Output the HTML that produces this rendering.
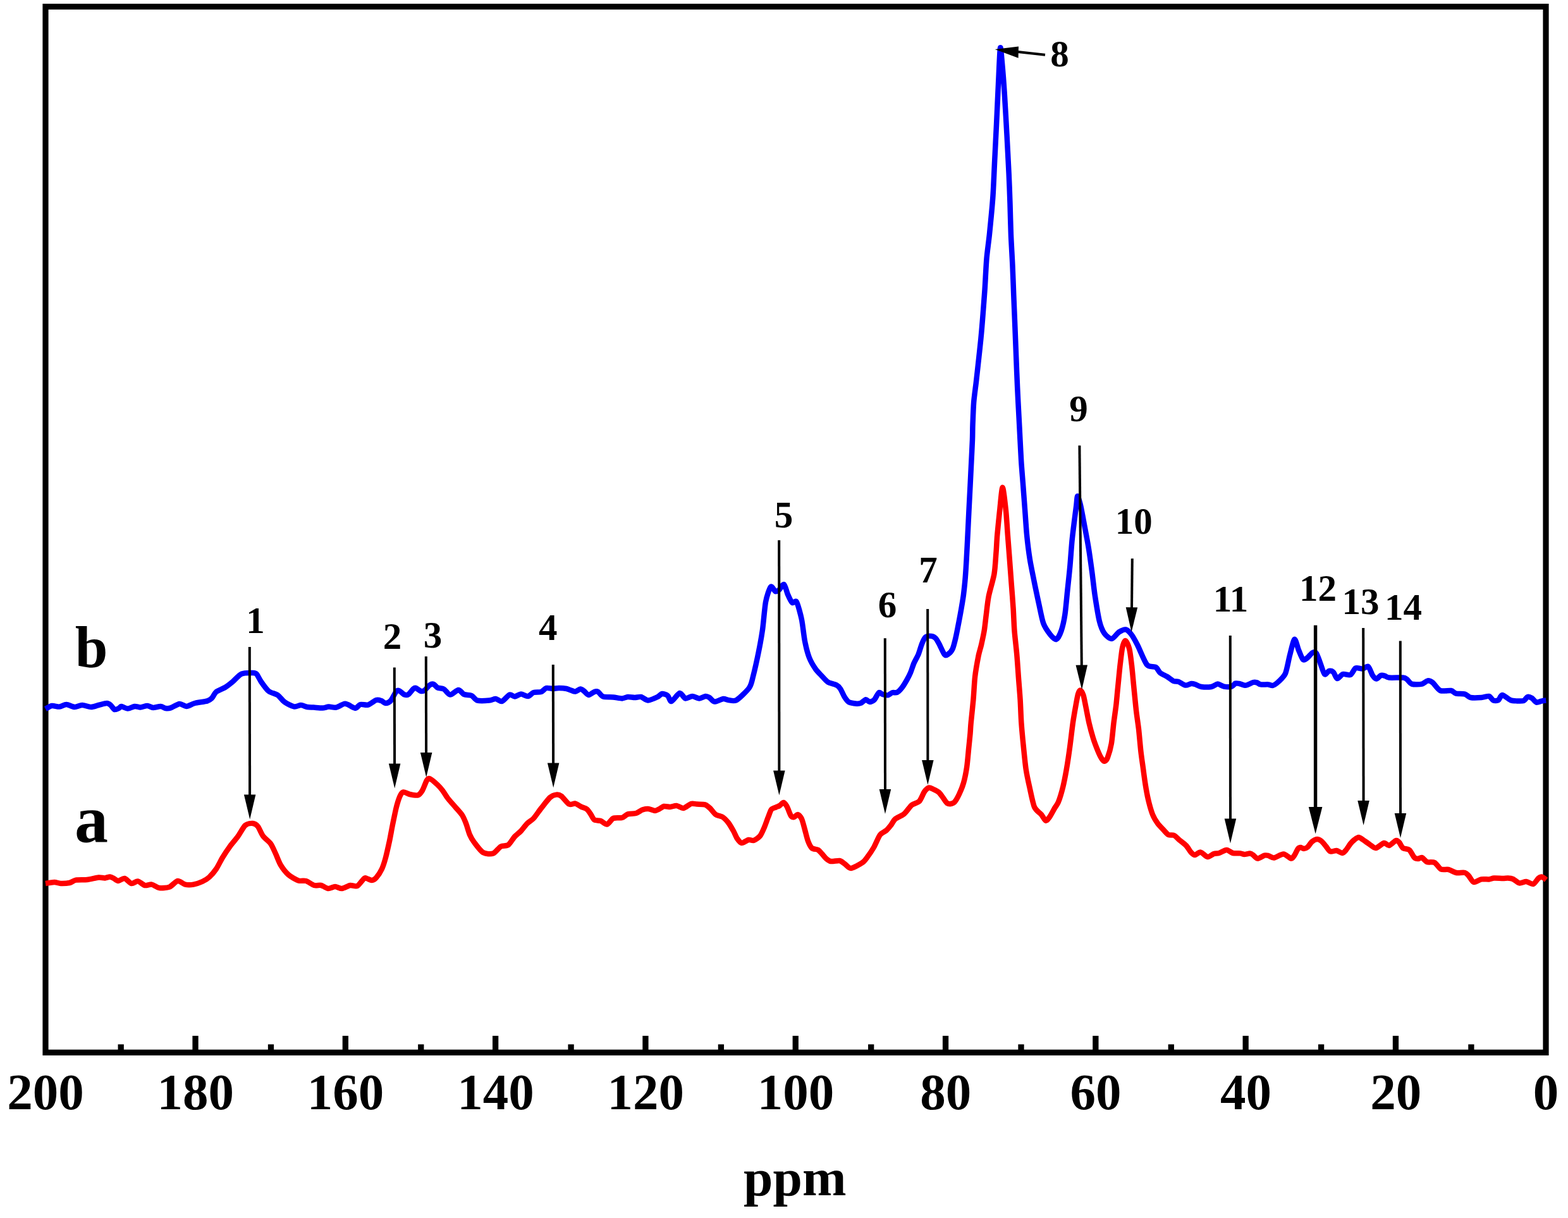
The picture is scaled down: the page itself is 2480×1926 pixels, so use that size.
<!DOCTYPE html>
<html lang="en">
<head>
<meta charset="utf-8">
<title>13C NMR spectra</title>
<style>
html,body{margin:0;padding:0;background:#fff;}
body{width:2480px;height:1926px;overflow:hidden;}
svg{display:block;}
text{font-family:"Liberation Serif",serif;font-weight:bold;fill:#000;}
.tick{font-size:81px;text-anchor:middle;}
.num{font-size:59px;text-anchor:middle;}
.la{font-size:106px;text-anchor:middle;}
.lb{font-size:93px;text-anchor:middle;}
.axl{font-size:83.5px;text-anchor:middle;}
</style>
</head>
<body>
<svg width="2480" height="1926" viewBox="0 0 2480 1926">
<rect x="0" y="0" width="2480" height="1926" fill="#fff"/>
<rect x="72.0" y="10.5" width="2373.0" height="1653.8" fill="none" stroke="#000" stroke-width="9.2"/>
<rect x="186.55" y="1651.4" width="9.3" height="9.3" fill="#000"/>
<rect x="304.40" y="1637.9" width="9.3" height="22.8" fill="#000"/>
<rect x="423.85" y="1651.4" width="9.3" height="9.3" fill="#000"/>
<rect x="541.70" y="1637.9" width="9.3" height="22.8" fill="#000"/>
<rect x="661.15" y="1651.4" width="9.3" height="9.3" fill="#000"/>
<rect x="779.00" y="1637.9" width="9.3" height="22.8" fill="#000"/>
<rect x="898.45" y="1651.4" width="9.3" height="9.3" fill="#000"/>
<rect x="1016.30" y="1637.9" width="9.3" height="22.8" fill="#000"/>
<rect x="1135.75" y="1651.4" width="9.3" height="9.3" fill="#000"/>
<rect x="1253.60" y="1637.9" width="9.3" height="22.8" fill="#000"/>
<rect x="1373.05" y="1651.4" width="9.3" height="9.3" fill="#000"/>
<rect x="1490.90" y="1637.9" width="9.3" height="22.8" fill="#000"/>
<rect x="1610.35" y="1651.4" width="9.3" height="9.3" fill="#000"/>
<rect x="1728.20" y="1637.9" width="9.3" height="22.8" fill="#000"/>
<rect x="1847.65" y="1651.4" width="9.3" height="9.3" fill="#000"/>
<rect x="1965.50" y="1637.9" width="9.3" height="22.8" fill="#000"/>
<rect x="2084.95" y="1651.4" width="9.3" height="9.3" fill="#000"/>
<rect x="2202.80" y="1637.9" width="9.3" height="22.8" fill="#000"/>
<rect x="2322.25" y="1651.4" width="9.3" height="9.3" fill="#000"/>
<path fill="none" stroke="#0000ff" stroke-width="8.5" stroke-linejoin="round" stroke-linecap="butt" d="M72.0 1121.0C73.3 1120.3 79.1 1116.5 82.0 1116.0C84.9 1115.5 90.9 1117.9 94.0 1117.6C97.1 1117.3 101.8 1113.9 105.0 1114.0C108.2 1114.1 114.7 1117.9 118.0 1118.0C121.3 1118.1 126.5 1115.0 130.0 1115.0C133.5 1115.0 140.5 1118.0 144.0 1118.0C147.5 1118.0 152.7 1115.8 156.0 1115.0C159.3 1114.2 166.5 1112.0 169.0 1112.0C171.5 1112.0 173.4 1113.7 175.0 1115.0C176.6 1116.3 179.3 1121.3 181.0 1122.0C182.7 1122.7 186.5 1120.7 188.0 1120.0C189.5 1119.3 190.1 1116.9 192.0 1117.0C193.9 1117.1 199.2 1120.6 202.0 1120.6C204.8 1120.6 210.3 1117.3 213.0 1117.0C215.7 1116.7 219.3 1118.5 222.0 1118.4C224.7 1118.3 230.3 1115.9 233.0 1116.0C235.7 1116.1 239.2 1118.9 242.0 1119.0C244.8 1119.1 251.3 1116.9 254.0 1117.0C256.7 1117.1 259.9 1119.7 262.0 1120.0C264.1 1120.3 267.1 1120.3 270.0 1119.4C272.9 1118.5 280.7 1113.3 284.0 1113.0C287.3 1112.7 291.8 1117.1 295.0 1117.0C298.2 1116.9 303.6 1113.1 308.0 1112.0C312.4 1110.9 324.4 1109.5 328.0 1108.4C331.6 1107.3 333.1 1105.9 335.0 1104.0C336.9 1102.1 339.2 1096.3 342.0 1094.0C344.8 1091.7 352.5 1089.1 356.0 1087.0C359.5 1084.9 364.5 1080.9 368.0 1078.0C371.5 1075.1 377.7 1067.5 382.0 1065.6C386.3 1063.7 396.8 1063.9 400.0 1064.0C403.2 1064.1 404.3 1064.1 406.0 1066.0C407.7 1067.9 410.5 1074.4 413.0 1078.0C415.5 1081.6 421.5 1090.2 425.0 1093.0C428.5 1095.8 435.7 1096.7 439.0 1099.0C442.3 1101.3 446.5 1107.5 450.0 1110.0C453.5 1112.5 461.5 1116.7 465.0 1117.4C468.5 1118.1 473.2 1114.9 476.0 1115.0C478.8 1115.1 483.3 1117.5 486.0 1118.0C488.7 1118.5 492.8 1118.4 496.0 1118.6C499.2 1118.8 506.8 1119.7 510.0 1119.6C513.2 1119.5 517.1 1117.7 520.0 1117.6C522.9 1117.5 528.8 1119.2 532.0 1118.6C535.2 1118.0 541.6 1113.6 544.0 1113.0C546.4 1112.4 547.6 1113.1 550.0 1114.0C552.4 1114.9 559.3 1120.0 562.0 1120.0C564.7 1120.0 567.3 1114.7 570.0 1114.0C572.7 1113.3 578.7 1115.5 582.0 1114.6C585.3 1113.7 592.2 1107.9 595.0 1107.0C597.8 1106.1 601.0 1107.3 603.0 1108.0C605.0 1108.7 608.0 1112.0 610.0 1112.0C612.0 1112.0 615.7 1110.5 618.0 1108.0C620.3 1105.5 625.1 1095.1 627.0 1093.0C628.9 1090.9 630.3 1091.9 632.0 1092.6C633.7 1093.3 638.1 1097.9 640.0 1098.6C641.9 1099.3 644.1 1099.3 646.0 1098.0C647.9 1096.7 652.4 1090.3 654.0 1089.0C655.6 1087.7 656.5 1087.5 658.0 1088.0C659.5 1088.5 663.3 1092.1 665.0 1092.6C666.7 1093.1 669.0 1093.3 671.0 1092.0C673.0 1090.7 678.0 1084.3 680.0 1083.0C682.0 1081.7 684.4 1081.4 686.0 1082.0C687.6 1082.6 689.9 1086.4 692.0 1087.4C694.1 1088.4 699.3 1088.1 702.0 1089.6C704.7 1091.1 708.9 1098.4 712.0 1098.6C715.1 1098.8 722.1 1091.1 725.0 1091.0C727.9 1090.9 731.2 1096.8 734.0 1098.0C736.8 1099.2 743.2 1098.7 746.0 1100.0C748.8 1101.3 751.3 1106.6 755.0 1107.6C758.7 1108.6 770.1 1107.9 774.0 1107.6C777.9 1107.3 781.3 1104.8 784.0 1105.0C786.7 1105.2 791.1 1109.9 794.0 1109.0C796.9 1108.1 803.3 1099.6 806.0 1098.6C808.7 1097.6 811.6 1101.5 814.0 1101.4C816.4 1101.3 821.2 1097.7 824.0 1097.6C826.8 1097.5 832.3 1101.3 835.0 1101.0C837.7 1100.7 841.2 1095.9 844.0 1095.0C846.8 1094.1 853.3 1094.9 856.0 1094.0C858.7 1093.1 861.6 1088.7 864.0 1088.0C866.4 1087.3 871.3 1089.0 874.0 1089.0C876.7 1089.0 881.1 1088.0 884.0 1088.0C886.9 1088.0 893.5 1088.5 896.0 1089.0C898.5 1089.5 901.1 1090.9 903.0 1091.5C904.9 1092.1 908.0 1093.9 910.0 1093.6C912.0 1093.3 916.1 1089.7 918.0 1089.6C919.9 1089.5 922.3 1091.7 924.0 1093.0C925.7 1094.3 928.9 1098.9 931.0 1099.0C933.1 1099.1 938.0 1094.7 940.0 1094.0C942.0 1093.3 944.1 1093.0 946.0 1094.0C947.9 1095.0 950.8 1100.5 954.0 1101.6C957.2 1102.7 966.0 1102.0 970.0 1102.4C974.0 1102.8 980.9 1104.5 984.0 1104.4C987.1 1104.3 990.3 1102.2 993.0 1102.0C995.7 1101.8 1001.2 1103.0 1004.0 1103.0C1006.8 1103.0 1011.2 1101.4 1014.0 1102.0C1016.8 1102.6 1021.5 1107.4 1025.0 1107.4C1028.5 1107.4 1037.1 1103.4 1040.0 1102.0C1042.9 1100.6 1044.9 1097.3 1047.0 1097.0C1049.1 1096.7 1054.0 1098.4 1056.0 1100.0C1058.0 1101.6 1059.5 1109.5 1062.0 1109.0C1064.5 1108.5 1072.1 1096.6 1075.0 1096.0C1077.9 1095.4 1081.3 1103.7 1084.0 1104.4C1086.7 1105.1 1092.1 1101.0 1095.0 1101.0C1097.9 1101.0 1103.2 1104.4 1106.0 1104.4C1108.8 1104.4 1113.9 1101.2 1116.0 1101.0C1118.1 1100.8 1120.1 1101.9 1122.0 1103.0C1123.9 1104.1 1127.1 1109.3 1130.0 1109.6C1132.9 1109.9 1141.1 1105.3 1144.0 1105.0C1146.9 1104.7 1149.2 1106.7 1152.0 1107.0C1154.8 1107.3 1160.6 1109.6 1165.0 1107.0C1169.4 1104.4 1181.5 1092.5 1185.0 1087.6C1188.5 1082.7 1189.0 1077.7 1191.0 1070.0C1193.0 1062.3 1198.0 1039.9 1200.0 1030.0C1202.0 1020.1 1204.5 1006.4 1206.0 996.0C1207.5 985.6 1209.3 961.1 1211.0 952.0C1212.7 942.9 1217.0 930.3 1219.0 928.0C1221.0 925.7 1224.3 934.3 1226.0 935.0C1227.7 935.7 1230.1 934.5 1232.0 933.0C1233.9 931.5 1238.1 923.1 1240.0 924.0C1241.9 924.9 1244.3 936.1 1246.0 940.0C1247.7 943.9 1251.1 951.4 1253.0 953.0C1254.9 954.6 1258.0 948.4 1260.0 952.0C1262.0 955.6 1266.3 971.7 1268.0 980.0C1269.7 988.3 1271.4 1006.0 1273.0 1014.0C1274.6 1022.0 1277.7 1034.1 1280.0 1040.0C1282.3 1045.9 1287.3 1054.1 1290.0 1058.0C1292.7 1061.9 1297.4 1066.3 1300.0 1069.1C1302.6 1071.9 1306.5 1076.8 1309.6 1078.7C1312.7 1080.6 1320.7 1082.0 1323.4 1083.5C1326.1 1085.0 1327.9 1087.2 1329.5 1089.7C1331.1 1092.2 1334.0 1099.4 1335.7 1102.1C1337.4 1104.8 1340.0 1108.9 1342.6 1110.3C1345.2 1111.7 1352.4 1112.5 1355.0 1112.7C1357.6 1112.9 1359.9 1112.6 1361.8 1111.7C1363.7 1110.8 1367.6 1106.4 1369.4 1106.2C1371.2 1106.0 1373.7 1110.0 1375.5 1110.0C1377.3 1110.0 1381.2 1108.2 1383.1 1106.2C1385.0 1104.2 1388.3 1096.3 1390.0 1095.2C1391.7 1094.1 1394.3 1097.5 1396.2 1098.0C1398.1 1098.5 1402.4 1099.7 1404.4 1099.3C1406.4 1098.9 1409.4 1095.8 1411.3 1095.2C1413.2 1094.6 1416.8 1095.9 1418.8 1094.9C1420.8 1093.9 1424.3 1090.4 1426.4 1087.7C1428.5 1085.0 1432.8 1077.8 1434.6 1074.6C1436.4 1071.4 1438.6 1067.1 1440.1 1063.6C1441.6 1060.1 1443.9 1052.3 1445.6 1048.5C1447.3 1044.7 1450.8 1038.8 1452.5 1034.8C1454.2 1030.8 1456.5 1022.0 1458.0 1018.3C1459.5 1014.6 1462.1 1009.0 1464.1 1007.3C1466.1 1005.6 1471.0 1005.6 1473.1 1005.9C1475.2 1006.2 1478.3 1007.7 1479.9 1009.4C1481.5 1011.1 1483.6 1014.9 1485.4 1018.3C1487.2 1021.7 1491.9 1032.6 1493.7 1034.8C1495.5 1037.0 1497.5 1036.0 1499.2 1034.8C1500.9 1033.6 1505.1 1029.4 1506.7 1025.9C1508.3 1022.4 1510.1 1014.7 1511.5 1008.7C1512.9 1002.7 1515.7 988.0 1517.0 981.2C1518.3 974.4 1520.3 963.4 1521.2 957.9C1522.1 952.4 1523.3 945.9 1524.0 940.0C1524.7 934.1 1526.1 921.2 1526.7 913.8C1527.3 906.4 1528.1 893.7 1528.6 884.6C1529.1 875.5 1530.1 856.1 1530.6 845.7C1531.1 835.3 1532.0 817.2 1532.5 806.8C1533.0 796.4 1534.0 778.2 1534.5 767.8C1535.0 757.4 1535.9 738.6 1536.4 728.9C1536.9 719.2 1537.7 702.6 1538.0 695.0C1538.3 687.4 1538.2 679.4 1538.5 671.6C1538.8 663.8 1539.4 645.7 1540.1 636.6C1540.8 627.5 1542.9 613.1 1544.0 603.5C1545.1 593.9 1547.3 573.7 1548.3 564.6C1549.3 555.5 1550.5 544.5 1551.4 535.4C1552.3 526.3 1553.9 506.9 1554.7 496.5C1555.5 486.1 1556.8 469.3 1557.6 457.6C1558.4 445.9 1559.5 420.6 1560.5 408.9C1561.5 397.2 1563.7 382.9 1565.0 370.0C1566.3 357.1 1569.2 327.9 1570.3 312.4C1571.4 296.9 1572.4 269.6 1573.2 254.0C1574.0 238.4 1575.3 211.8 1576.1 195.7C1576.9 179.6 1578.2 149.4 1579.0 133.4C1579.8 117.4 1581.2 80.7 1582.0 76.0C1582.8 71.3 1584.0 88.7 1584.9 98.4C1585.8 108.1 1587.8 133.4 1588.8 149.0C1589.8 164.6 1591.7 198.5 1592.6 215.1C1593.5 231.7 1594.9 259.2 1595.6 273.5C1596.3 287.8 1597.1 309.3 1597.5 322.2C1597.9 335.1 1598.4 357.1 1598.9 370.0C1599.4 382.9 1600.8 405.6 1601.4 418.6C1602.0 431.6 1602.8 454.3 1603.3 467.3C1603.8 480.3 1604.8 502.9 1605.3 515.9C1605.8 528.9 1606.7 551.6 1607.2 564.6C1607.7 577.6 1608.6 600.2 1609.2 613.2C1609.8 626.2 1611.1 651.0 1611.7 661.9C1612.3 672.8 1612.9 686.1 1613.4 695.0C1613.9 703.9 1614.6 719.2 1615.2 728.9C1615.8 738.6 1617.4 757.4 1618.2 767.8C1619.0 778.2 1620.3 796.4 1621.1 806.8C1621.9 817.2 1623.0 835.3 1624.0 845.7C1625.0 856.1 1627.3 874.7 1628.9 884.6C1630.5 894.5 1633.8 910.0 1635.7 919.6C1637.6 929.2 1641.6 947.8 1643.5 956.6C1645.4 965.4 1648.0 979.6 1650.3 985.8C1652.6 992.0 1658.3 999.9 1661.0 1003.3C1663.7 1006.7 1668.4 1011.9 1670.7 1011.1C1673.0 1010.3 1676.7 1002.7 1678.5 997.5C1680.3 992.3 1683.0 980.8 1684.3 972.2C1685.6 963.6 1687.3 943.6 1688.4 933.2C1689.5 922.8 1691.5 904.7 1692.4 894.3C1693.3 883.9 1694.6 865.0 1695.5 855.4C1696.4 845.8 1698.5 829.8 1699.4 822.3C1700.3 814.8 1701.8 804.0 1702.4 799.0C1703.0 794.0 1703.4 784.9 1704.2 784.6C1705.0 784.3 1707.3 792.0 1708.6 797.0C1709.9 802.0 1711.9 813.2 1713.6 822.3C1715.3 831.4 1719.7 854.2 1721.5 865.1C1723.3 876.0 1725.7 893.6 1727.1 904.0C1728.5 914.4 1730.4 932.6 1732.0 943.0C1733.6 953.4 1736.9 974.1 1738.8 981.9C1740.7 989.7 1744.0 997.5 1746.6 1001.3C1749.2 1005.1 1755.2 1010.4 1758.3 1010.1C1761.4 1009.8 1766.9 1001.3 1769.9 999.4C1772.9 997.5 1778.0 995.0 1780.6 995.5C1783.2 996.0 1786.9 1000.0 1789.4 1003.3C1791.9 1006.6 1795.8 1013.6 1799.1 1020.0C1802.4 1026.4 1810.1 1046.3 1814.0 1051.0C1817.9 1055.7 1825.2 1053.3 1828.0 1055.0C1830.8 1056.7 1832.6 1062.0 1835.0 1064.0C1837.4 1066.0 1843.2 1068.3 1846.0 1070.0C1848.8 1071.7 1853.6 1075.9 1856.0 1077.0C1858.4 1078.1 1861.5 1077.1 1864.0 1078.0C1866.5 1078.9 1872.3 1083.2 1875.0 1083.6C1877.7 1084.0 1882.0 1081.2 1884.0 1081.0C1886.0 1080.8 1887.9 1081.3 1890.0 1082.0C1892.1 1082.7 1896.5 1085.5 1900.0 1086.0C1903.5 1086.5 1912.5 1086.6 1916.0 1086.0C1919.5 1085.4 1923.3 1081.7 1926.0 1081.6C1928.7 1081.5 1933.1 1085.1 1936.0 1085.6C1938.9 1086.1 1945.6 1086.3 1948.0 1085.6C1950.4 1084.9 1952.4 1081.2 1954.0 1080.6C1955.6 1080.0 1958.1 1080.6 1960.0 1081.0C1961.9 1081.4 1966.3 1083.3 1968.0 1083.6C1969.7 1083.9 1971.1 1083.6 1973.0 1083.0C1974.9 1082.4 1980.0 1079.5 1982.0 1079.0C1984.0 1078.5 1986.4 1078.9 1988.0 1079.4C1989.6 1079.9 1991.6 1082.0 1994.0 1082.4C1996.4 1082.8 2003.5 1082.2 2006.0 1082.4C2008.5 1082.6 2010.9 1084.6 2013.0 1084.0C2015.1 1083.4 2019.3 1080.5 2022.0 1078.0C2024.7 1075.5 2030.6 1070.6 2033.0 1065.0C2035.4 1059.4 2038.1 1043.2 2040.0 1036.0C2041.9 1028.8 2045.5 1012.1 2047.4 1011.0C2049.3 1009.9 2052.2 1023.7 2054.0 1028.0C2055.8 1032.3 2059.1 1041.4 2061.0 1043.0C2062.9 1044.6 2066.0 1041.5 2068.0 1040.0C2070.0 1038.5 2074.1 1032.9 2076.0 1032.0C2077.9 1031.1 2080.4 1030.9 2082.0 1033.0C2083.6 1035.1 2086.3 1043.6 2088.0 1048.0C2089.7 1052.4 2093.1 1064.3 2095.0 1066.0C2096.9 1067.7 2100.1 1061.4 2102.0 1061.0C2103.9 1060.6 2107.3 1061.4 2109.0 1063.0C2110.7 1064.6 2113.0 1072.6 2115.0 1073.0C2117.0 1073.4 2121.2 1066.8 2124.0 1066.0C2126.8 1065.2 2133.3 1068.3 2136.0 1067.0C2138.7 1065.7 2141.5 1057.9 2144.0 1056.6C2146.5 1055.3 2152.3 1057.9 2155.0 1057.6C2157.7 1057.3 2161.9 1052.6 2164.0 1054.0C2166.1 1055.4 2169.3 1065.4 2171.0 1068.0C2172.7 1070.6 2175.3 1073.6 2177.0 1073.6C2178.7 1073.6 2182.3 1068.7 2184.0 1068.0C2185.7 1067.3 2188.3 1068.1 2190.0 1068.6C2191.7 1069.1 2193.1 1071.2 2197.0 1071.6C2200.9 1072.0 2215.3 1071.3 2219.0 1071.6C2222.7 1071.9 2223.1 1072.7 2225.0 1074.0C2226.9 1075.3 2229.8 1080.6 2233.0 1081.6C2236.2 1082.6 2245.7 1082.3 2249.0 1081.6C2252.3 1080.9 2255.7 1076.7 2258.0 1076.4C2260.3 1076.1 2263.3 1077.3 2266.0 1079.4C2268.7 1081.5 2274.1 1090.3 2278.0 1092.0C2281.9 1093.7 2291.7 1091.4 2295.0 1092.0C2298.3 1092.6 2300.1 1095.9 2303.0 1096.6C2305.9 1097.3 2313.9 1096.7 2317.0 1097.6C2320.1 1098.5 2322.5 1102.3 2326.0 1103.0C2329.5 1103.7 2339.1 1103.3 2343.0 1103.0C2346.9 1102.7 2352.5 1100.4 2355.0 1101.0C2357.5 1101.6 2360.0 1106.8 2362.0 1107.6C2364.0 1108.4 2368.1 1108.1 2370.0 1107.0C2371.9 1105.9 2373.5 1099.0 2376.0 1099.0C2378.5 1099.0 2385.9 1105.7 2389.0 1107.0C2392.1 1108.3 2396.2 1108.3 2399.0 1108.4C2401.8 1108.5 2407.7 1108.9 2410.0 1108.0C2412.3 1107.1 2414.3 1102.5 2416.0 1102.0C2417.7 1101.5 2421.1 1102.9 2423.0 1104.0C2424.9 1105.1 2428.0 1110.0 2430.0 1110.6C2432.0 1111.2 2436.0 1109.0 2438.0 1108.6C2440.0 1108.2 2444.2 1107.7 2445.2 1107.6"/>
<path fill="none" stroke="#ff0000" stroke-width="8.5" stroke-linejoin="round" stroke-linecap="butt" d="M72.0 1397.0C73.9 1396.7 82.8 1395.0 86.0 1395.0C89.2 1395.0 92.8 1396.9 96.0 1397.0C99.2 1397.1 106.8 1396.7 110.0 1396.0C113.2 1395.3 116.3 1392.3 120.0 1391.6C123.7 1390.9 133.2 1391.5 138.0 1391.0C142.8 1390.5 152.3 1387.9 156.0 1387.6C159.7 1387.3 163.6 1388.6 166.0 1388.4C168.4 1388.2 172.1 1386.3 174.0 1386.4C175.9 1386.5 178.3 1388.1 180.0 1389.0C181.7 1389.9 184.7 1393.0 187.0 1393.0C189.3 1393.0 194.2 1388.5 197.0 1389.0C199.8 1389.5 205.2 1396.4 208.0 1397.0C210.8 1397.6 215.2 1393.0 218.0 1393.4C220.8 1393.8 226.1 1399.3 229.0 1400.0C231.9 1400.7 236.9 1398.1 240.0 1398.6C243.1 1399.1 248.3 1403.5 252.0 1404.0C255.7 1404.5 264.1 1404.1 268.0 1402.6C271.9 1401.1 277.7 1393.5 281.0 1393.0C284.3 1392.5 289.7 1397.9 293.0 1398.6C296.3 1399.3 302.4 1399.2 306.0 1398.6C309.6 1398.0 316.7 1395.5 320.0 1394.0C323.3 1392.5 328.1 1389.7 331.0 1387.0C333.9 1384.3 339.2 1378.1 342.0 1374.0C344.8 1369.9 349.1 1360.8 352.0 1356.0C354.9 1351.2 360.8 1342.4 364.0 1338.0C367.2 1333.6 372.8 1327.4 376.0 1323.0C379.2 1318.6 384.8 1307.8 388.0 1305.0C391.2 1302.2 397.3 1301.7 400.0 1302.0C402.7 1302.3 405.9 1304.3 408.0 1307.0C410.1 1309.7 413.3 1318.4 416.0 1322.0C418.7 1325.6 425.3 1330.3 428.0 1334.0C430.7 1337.7 433.9 1345.5 436.0 1350.0C438.1 1354.5 441.3 1363.6 444.0 1368.0C446.7 1372.4 452.3 1379.7 456.0 1383.0C459.7 1386.3 468.3 1391.1 472.0 1392.4C475.7 1393.7 480.7 1392.0 484.0 1393.0C487.3 1394.0 493.8 1399.1 497.0 1400.0C500.2 1400.9 505.1 1399.3 508.0 1400.0C510.9 1400.7 516.1 1404.7 519.0 1405.0C521.9 1405.3 527.1 1402.0 530.0 1402.0C532.9 1402.0 537.8 1405.3 541.0 1405.0C544.2 1404.7 550.8 1400.5 554.0 1400.0C557.2 1399.5 562.1 1402.5 565.0 1401.0C567.9 1399.5 574.0 1390.6 576.0 1389.0C578.0 1387.4 578.4 1388.6 580.0 1389.0C581.6 1389.4 586.0 1392.1 588.0 1392.0C590.0 1391.9 592.9 1390.4 595.0 1388.0C597.1 1385.6 602.0 1378.3 604.0 1374.0C606.0 1369.7 608.4 1361.9 610.0 1356.0C611.6 1350.1 614.5 1336.9 616.0 1330.0C617.5 1323.1 619.5 1311.2 621.0 1304.0C622.5 1296.8 625.4 1282.1 627.0 1276.0C628.6 1269.9 631.5 1261.1 633.0 1258.0C634.5 1254.9 636.0 1252.7 638.0 1252.4C640.0 1252.1 644.9 1255.3 648.0 1256.0C651.1 1256.7 658.3 1258.2 661.0 1257.4C663.7 1256.6 666.1 1253.1 668.0 1250.0C669.9 1246.9 673.4 1236.5 675.0 1234.0C676.6 1231.5 677.7 1230.5 680.0 1231.4C682.3 1232.3 689.3 1238.5 692.0 1241.0C694.7 1243.5 697.9 1247.2 700.0 1250.0C702.1 1252.8 705.3 1258.5 708.0 1262.0C710.7 1265.5 716.9 1272.4 720.0 1276.0C723.1 1279.6 728.7 1285.5 731.0 1289.0C733.3 1292.5 735.4 1297.9 737.0 1302.0C738.6 1306.1 741.3 1316.0 743.0 1320.0C744.7 1324.0 747.2 1328.3 750.0 1332.0C752.8 1335.7 760.0 1345.7 764.0 1348.0C768.0 1350.3 776.3 1350.9 780.0 1349.6C783.7 1348.3 788.8 1340.4 792.0 1338.6C795.2 1336.8 801.1 1338.1 804.0 1336.0C806.9 1333.9 811.3 1325.9 814.0 1323.0C816.7 1320.1 821.3 1316.8 824.0 1314.0C826.7 1311.2 831.3 1304.7 834.0 1302.0C836.7 1299.3 841.1 1297.2 844.0 1294.0C846.9 1290.8 852.5 1282.4 856.0 1278.0C859.5 1273.6 866.8 1263.9 870.0 1261.0C873.2 1258.1 877.6 1256.9 880.0 1256.6C882.4 1256.3 885.3 1257.0 888.0 1259.0C890.7 1261.0 897.1 1270.1 900.0 1271.6C902.9 1273.1 907.5 1270.1 910.0 1270.6C912.5 1271.1 916.6 1274.4 919.0 1275.6C921.4 1276.8 926.0 1277.9 928.0 1279.4C930.0 1280.9 932.4 1284.7 934.0 1287.0C935.6 1289.3 937.9 1294.9 940.0 1296.4C942.1 1297.9 947.3 1297.0 950.0 1298.0C952.7 1299.0 957.3 1304.1 960.0 1303.6C962.7 1303.1 966.8 1295.4 970.0 1294.0C973.2 1292.6 980.9 1293.9 984.0 1293.0C987.1 1292.1 990.1 1288.3 993.0 1287.4C995.9 1286.5 1002.9 1286.9 1006.0 1286.0C1009.1 1285.1 1013.5 1281.5 1016.0 1280.6C1018.5 1279.7 1022.3 1278.8 1025.0 1279.0C1027.7 1279.2 1033.7 1281.9 1036.0 1282.0C1038.3 1282.1 1040.1 1280.5 1042.0 1279.6C1043.9 1278.7 1047.6 1275.5 1050.0 1275.0C1052.4 1274.5 1057.3 1276.1 1060.0 1276.0C1062.7 1275.9 1067.2 1273.7 1070.0 1274.0C1072.8 1274.3 1077.9 1278.4 1081.0 1278.0C1084.1 1277.6 1090.2 1271.9 1093.0 1271.0C1095.8 1270.1 1099.1 1271.4 1102.0 1271.6C1104.9 1271.8 1112.2 1271.5 1115.0 1272.4C1117.8 1273.3 1120.7 1275.9 1123.0 1278.0C1125.3 1280.1 1129.3 1286.1 1132.0 1288.0C1134.7 1289.9 1140.3 1290.3 1143.0 1292.0C1145.7 1293.7 1149.7 1298.1 1152.0 1301.0C1154.3 1303.9 1158.1 1310.7 1160.0 1314.0C1161.9 1317.3 1164.3 1323.5 1166.0 1326.0C1167.7 1328.5 1170.6 1332.7 1173.0 1333.0C1175.4 1333.3 1181.5 1328.5 1184.0 1328.0C1186.5 1327.5 1189.6 1329.8 1192.0 1329.0C1194.4 1328.2 1199.7 1324.8 1202.0 1322.0C1204.3 1319.2 1207.3 1312.0 1209.0 1308.0C1210.7 1304.0 1213.5 1295.7 1215.0 1292.0C1216.5 1288.3 1218.4 1282.1 1220.0 1280.0C1221.6 1277.9 1225.3 1277.4 1227.0 1276.6C1228.7 1275.8 1231.3 1275.0 1233.0 1274.0C1234.7 1273.0 1237.8 1268.7 1239.4 1269.0C1241.0 1269.3 1243.5 1273.2 1245.0 1276.0C1246.5 1278.8 1249.5 1287.9 1251.0 1290.0C1252.5 1292.1 1254.5 1292.3 1256.0 1292.0C1257.5 1291.7 1260.4 1287.6 1262.0 1288.0C1263.6 1288.4 1266.5 1291.8 1268.0 1295.0C1269.5 1298.2 1271.7 1307.3 1273.0 1312.0C1274.3 1316.7 1276.5 1326.1 1278.0 1330.0C1279.5 1333.9 1281.9 1339.1 1284.0 1341.0C1286.1 1342.9 1291.9 1342.8 1294.0 1344.0C1296.1 1345.2 1298.4 1348.3 1300.0 1350.0C1301.6 1351.7 1304.1 1355.4 1306.0 1357.0C1307.9 1358.6 1311.1 1361.5 1314.0 1362.0C1316.9 1362.5 1325.1 1360.5 1328.0 1361.0C1330.9 1361.5 1333.6 1364.4 1336.0 1366.0C1338.4 1367.6 1342.3 1373.3 1346.0 1373.0C1349.7 1372.7 1360.5 1366.4 1364.0 1364.0C1367.5 1361.6 1369.6 1358.2 1372.0 1355.0C1374.4 1351.8 1379.3 1344.7 1382.0 1340.0C1384.7 1335.3 1389.3 1323.6 1392.0 1320.0C1394.7 1316.4 1399.7 1315.0 1402.0 1313.0C1404.3 1311.0 1407.1 1307.4 1409.0 1305.0C1410.9 1302.6 1413.2 1297.4 1416.0 1295.0C1418.8 1292.6 1426.5 1289.9 1430.0 1287.0C1433.5 1284.1 1438.8 1275.7 1442.0 1273.0C1445.2 1270.3 1451.3 1269.8 1454.0 1267.0C1456.7 1264.2 1460.0 1254.9 1462.0 1252.0C1464.0 1249.1 1467.1 1246.1 1469.0 1245.6C1470.9 1245.1 1473.9 1247.0 1476.0 1248.0C1478.1 1249.0 1482.9 1251.1 1485.0 1253.0C1487.1 1254.9 1490.3 1259.7 1492.0 1262.0C1493.7 1264.3 1496.4 1268.8 1498.0 1270.0C1499.6 1271.2 1502.4 1271.3 1504.0 1271.0C1505.6 1270.7 1508.3 1270.0 1510.0 1268.0C1511.7 1266.0 1515.1 1260.0 1517.0 1256.0C1518.9 1252.0 1522.4 1243.6 1524.0 1238.0C1525.6 1232.4 1527.9 1221.1 1529.0 1214.0C1530.1 1206.9 1531.3 1192.2 1532.0 1185.0C1532.7 1177.8 1534.0 1165.6 1534.5 1160.0C1535.0 1154.4 1535.0 1150.3 1535.7 1143.2C1536.4 1136.1 1538.5 1116.3 1539.4 1106.5C1540.3 1096.7 1541.0 1079.2 1542.1 1069.9C1543.2 1060.6 1546.3 1043.6 1547.6 1036.9C1548.9 1030.2 1550.8 1025.4 1552.0 1020.0C1553.2 1014.6 1555.8 1003.0 1556.8 996.6C1557.8 990.2 1558.9 979.3 1559.8 972.2C1560.7 965.1 1562.0 951.6 1563.7 943.0C1565.4 934.4 1570.8 917.0 1572.4 907.9C1574.0 898.8 1574.7 883.2 1575.4 874.9C1576.1 866.6 1576.5 854.8 1577.3 845.7C1578.1 836.6 1580.1 816.8 1581.2 806.8C1582.3 796.8 1584.4 770.8 1585.7 770.8C1587.0 770.8 1589.8 796.8 1590.9 806.8C1592.0 816.8 1593.0 835.3 1593.8 845.7C1594.6 856.1 1596.0 874.2 1596.8 884.6C1597.6 895.0 1598.9 913.1 1599.7 923.5C1600.5 933.9 1602.0 952.7 1602.6 962.4C1603.2 972.1 1603.7 987.1 1604.4 996.6C1605.1 1006.1 1607.2 1023.5 1608.1 1033.3C1609.0 1043.1 1610.1 1060.1 1610.8 1069.9C1611.5 1079.7 1613.0 1096.7 1613.6 1106.5C1614.2 1116.3 1614.7 1133.4 1615.4 1143.2C1616.1 1153.0 1617.7 1170.0 1618.7 1179.8C1619.7 1189.6 1621.4 1207.9 1622.7 1216.4C1624.0 1224.9 1626.4 1236.0 1628.2 1243.9C1630.0 1251.8 1633.5 1270.1 1636.0 1276.0C1638.5 1281.9 1644.6 1285.1 1647.0 1288.0C1649.4 1290.9 1652.3 1297.1 1654.0 1297.6C1655.7 1298.1 1658.1 1294.6 1660.0 1292.0C1661.9 1289.4 1666.1 1281.2 1668.0 1278.0C1669.9 1274.8 1672.2 1272.5 1674.0 1268.0C1675.8 1263.5 1679.6 1250.8 1681.3 1243.9C1683.0 1237.0 1685.3 1224.9 1686.8 1216.4C1688.3 1207.9 1691.0 1189.6 1692.3 1179.8C1693.6 1170.0 1695.7 1151.7 1696.9 1143.2C1698.1 1134.7 1700.4 1121.8 1701.5 1115.7C1702.6 1109.6 1704.1 1100.6 1705.1 1097.4C1706.1 1094.2 1707.6 1091.4 1708.7 1091.6C1709.8 1091.8 1712.3 1096.0 1713.4 1099.2C1714.5 1102.4 1715.8 1109.8 1717.0 1115.7C1718.2 1121.6 1720.9 1136.4 1722.5 1143.2C1724.1 1150.0 1727.1 1161.1 1728.9 1167.0C1730.7 1172.9 1734.5 1182.7 1736.3 1187.1C1738.1 1191.5 1741.2 1197.8 1742.7 1200.0C1744.2 1202.2 1746.1 1203.9 1747.3 1203.6C1748.5 1203.3 1750.4 1201.8 1751.8 1198.1C1753.2 1194.4 1756.5 1183.4 1757.8 1176.1C1759.1 1168.8 1760.5 1151.3 1761.5 1143.2C1762.5 1135.1 1764.3 1123.0 1765.2 1115.7C1766.1 1108.4 1767.0 1096.7 1767.9 1088.2C1768.8 1079.7 1770.6 1060.1 1771.6 1051.6C1772.6 1043.1 1774.1 1029.2 1775.2 1024.1C1776.3 1019.0 1778.7 1012.9 1780.2 1013.1C1781.7 1013.3 1784.9 1020.8 1786.2 1025.9C1787.5 1031.0 1788.9 1043.3 1789.9 1051.6C1790.9 1059.9 1792.5 1078.4 1793.5 1088.2C1794.5 1098.0 1796.2 1116.3 1797.2 1124.8C1798.2 1133.3 1799.9 1143.8 1800.9 1152.3C1801.9 1160.8 1803.5 1180.4 1804.5 1188.9C1805.5 1197.4 1807.3 1209.6 1808.2 1216.4C1809.1 1223.2 1810.5 1233.7 1811.5 1240.0C1812.5 1246.3 1814.5 1257.6 1816.0 1264.0C1817.5 1270.4 1821.0 1282.9 1823.0 1288.0C1825.0 1293.1 1828.7 1298.8 1831.0 1302.0C1833.3 1305.2 1837.7 1309.6 1840.0 1312.0C1842.3 1314.4 1845.7 1318.8 1848.0 1320.0C1850.3 1321.2 1854.7 1319.9 1857.0 1321.0C1859.3 1322.1 1862.5 1325.9 1865.0 1328.0C1867.5 1330.1 1873.5 1334.3 1876.0 1337.0C1878.5 1339.7 1882.1 1346.0 1884.0 1348.0C1885.9 1350.0 1888.0 1352.1 1890.0 1352.0C1892.0 1351.9 1896.3 1347.2 1899.0 1347.6C1901.7 1348.0 1907.2 1354.7 1910.0 1355.0C1912.8 1355.3 1917.6 1350.8 1920.0 1350.0C1922.4 1349.2 1925.3 1349.8 1928.0 1349.0C1930.7 1348.2 1937.1 1344.0 1940.0 1344.0C1942.9 1344.0 1947.1 1348.3 1950.0 1349.0C1952.9 1349.7 1959.6 1349.1 1962.0 1349.4C1964.4 1349.7 1966.0 1351.0 1968.0 1351.0C1970.0 1351.0 1975.1 1349.5 1977.0 1349.6C1978.9 1349.7 1980.4 1350.9 1982.0 1352.0C1983.6 1353.1 1986.6 1357.5 1989.0 1357.6C1991.4 1357.7 1997.7 1353.2 2000.0 1352.6C2002.3 1352.0 2004.0 1352.5 2006.0 1353.0C2008.0 1353.5 2011.8 1356.7 2015.0 1356.4C2018.2 1356.1 2026.4 1350.2 2030.0 1350.4C2033.6 1350.6 2039.7 1357.3 2042.0 1357.6C2044.3 1357.9 2045.5 1355.1 2047.0 1353.0C2048.5 1350.9 2051.7 1343.7 2053.0 1342.0C2054.3 1340.3 2055.8 1340.0 2057.0 1340.0C2058.2 1340.0 2060.5 1342.1 2062.0 1342.0C2063.5 1341.9 2066.3 1341.1 2068.0 1339.6C2069.7 1338.1 2073.0 1332.7 2075.0 1331.0C2077.0 1329.3 2081.0 1327.1 2083.0 1327.0C2085.0 1326.9 2088.1 1328.5 2090.0 1330.0C2091.9 1331.5 2095.1 1335.8 2097.0 1338.0C2098.9 1340.2 2101.7 1345.5 2104.0 1346.4C2106.3 1347.3 2111.5 1344.7 2114.0 1345.0C2116.5 1345.3 2121.0 1349.1 2123.0 1349.0C2125.0 1348.9 2127.3 1346.0 2129.0 1344.0C2130.7 1342.0 2134.3 1336.1 2136.0 1334.0C2137.7 1331.9 2140.3 1329.3 2142.0 1328.0C2143.7 1326.7 2147.1 1324.0 2149.0 1324.0C2150.9 1324.0 2153.7 1326.5 2156.0 1328.0C2158.3 1329.5 2163.3 1333.3 2166.0 1335.0C2168.7 1336.7 2172.9 1341.3 2176.0 1341.0C2179.1 1340.7 2186.2 1333.5 2189.0 1333.0C2191.8 1332.5 2194.5 1337.5 2197.0 1337.0C2199.5 1336.5 2205.9 1329.7 2208.0 1329.0C2210.1 1328.3 2211.5 1330.4 2213.0 1332.0C2214.5 1333.6 2216.9 1339.4 2219.0 1341.0C2221.1 1342.6 2226.6 1342.0 2229.0 1344.0C2231.4 1346.0 2235.1 1354.1 2237.0 1356.0C2238.9 1357.9 2241.4 1358.0 2243.0 1358.0C2244.6 1358.0 2247.1 1355.3 2249.0 1356.0C2250.9 1356.7 2254.3 1361.9 2257.0 1363.0C2259.7 1364.1 2266.1 1362.5 2269.0 1364.0C2271.9 1365.5 2276.1 1372.9 2279.0 1374.4C2281.9 1375.9 2287.8 1374.3 2291.0 1375.0C2294.2 1375.7 2299.5 1379.3 2303.0 1380.0C2306.5 1380.7 2314.3 1379.3 2317.0 1380.0C2319.7 1380.7 2321.1 1383.0 2323.0 1385.0C2324.9 1387.0 2328.3 1394.3 2331.0 1395.0C2333.7 1395.7 2339.8 1391.0 2343.0 1390.4C2346.2 1389.8 2352.3 1390.6 2355.0 1390.4C2357.7 1390.2 2360.1 1388.8 2363.0 1388.6C2365.9 1388.4 2374.1 1389.0 2377.0 1389.0C2379.9 1389.0 2382.9 1388.5 2385.0 1388.6C2387.1 1388.7 2390.6 1389.0 2393.0 1390.0C2395.4 1391.0 2400.2 1395.9 2403.0 1396.4C2405.8 1396.9 2411.1 1393.8 2414.0 1394.0C2416.9 1394.2 2422.5 1398.7 2425.0 1398.0C2427.5 1397.3 2431.3 1390.5 2433.0 1389.0C2434.7 1387.5 2436.8 1386.7 2438.0 1386.6C2439.2 1386.5 2441.0 1387.8 2442.0 1388.4C2443.0 1389.0 2445.0 1391.0 2445.5 1391.4"/>
<line x1="394.8" y1="1023.0" x2="395.1" y2="1258.5" stroke="#000" stroke-width="4"/>
<polygon fill="#000" points="385.9,1256.5 395.2,1295.5 404.4,1256.5"/>
<line x1="623.8" y1="1055.4" x2="624.1" y2="1209.6" stroke="#000" stroke-width="4"/>
<polygon fill="#000" points="614.9,1207.6 624.2,1246.6 633.4,1207.6"/>
<line x1="673.8" y1="1038.0" x2="674.1" y2="1192.0" stroke="#000" stroke-width="4"/>
<polygon fill="#000" points="664.9,1190.0 674.2,1229.0 683.4,1190.0"/>
<line x1="874.8" y1="1051.0" x2="875.1" y2="1208.4" stroke="#000" stroke-width="4"/>
<polygon fill="#000" points="865.9,1206.4 875.2,1245.4 884.4,1206.4"/>
<line x1="1232.2" y1="854.3" x2="1232.4" y2="1220.6" stroke="#000" stroke-width="4"/>
<polygon fill="#000" points="1223.1,1218.6 1232.4,1257.6 1241.6,1218.6"/>
<line x1="1399.8" y1="1009.2" x2="1400.0" y2="1250.0" stroke="#000" stroke-width="4"/>
<polygon fill="#000" points="1390.7,1248.0 1400.0,1287.0 1409.2,1248.0"/>
<line x1="1467.2" y1="963.0" x2="1467.4" y2="1204.0" stroke="#000" stroke-width="4"/>
<polygon fill="#000" points="1458.1,1202.0 1467.4,1241.0 1476.6,1202.0"/>
<line x1="1653.0" y1="86.7" x2="1610.0" y2="82.1" stroke="#000" stroke-width="4"/>
<polygon fill="#000" points="1611.0,73.4 1573.6,78.1 1610.6,91.7"/>
<line x1="1707.4" y1="704.6" x2="1710.8" y2="1053.6" stroke="#000" stroke-width="4"/>
<polygon fill="#000" points="1701.5,1051.7 1711.1,1090.6 1720.0,1051.5"/>
<line x1="1790.8" y1="883.2" x2="1790.0" y2="962.4" stroke="#000" stroke-width="4"/>
<polygon fill="#000" points="1780.7,960.3 1789.6,999.4 1799.2,960.5"/>
<line x1="1945.8" y1="1005.0" x2="1946.0" y2="1296.4" stroke="#000" stroke-width="4"/>
<polygon fill="#000" points="1936.7,1294.4 1946.0,1333.4 1955.2,1294.4"/>
<line x1="2080.6" y1="988.8" x2="2080.6" y2="1278.0" stroke="#000" stroke-width="5.4"/>
<polygon fill="#000" points="2069.8,1276.0 2080.6,1318.6 2091.4,1276.0"/>
<line x1="2156.2" y1="993.0" x2="2156.6" y2="1268.0" stroke="#000" stroke-width="4"/>
<polygon fill="#000" points="2147.3,1266.0 2156.6,1305.0 2165.8,1266.0"/>
<line x1="2214.8" y1="1013.4" x2="2215.0" y2="1288.0" stroke="#000" stroke-width="4"/>
<polygon fill="#000" points="2205.7,1286.0 2215.0,1325.0 2224.2,1286.0"/>
<text class="tick" x="72.0" y="1753.8">200</text>
<text class="tick" x="309.3" y="1753.8">180</text>
<text class="tick" x="546.6" y="1753.8">160</text>
<text class="tick" x="783.9" y="1753.8">140</text>
<text class="tick" x="1021.2" y="1753.8">120</text>
<text class="tick" x="1258.5" y="1753.8">100</text>
<text class="tick" x="1495.8" y="1753.8">80</text>
<text class="tick" x="1733.1" y="1753.8">60</text>
<text class="tick" x="1970.4" y="1753.8">40</text>
<text class="tick" x="2207.7" y="1753.8">20</text>
<text class="tick" x="2445.0" y="1753.8">0</text>
<text class="axl" x="1257.3" y="1890">ppm</text>
<text class="lb" x="144.5" y="1054.5">b</text>
<text class="la" x="144.6" y="1330.7">a</text>
<text class="num" x="404.0" y="1001.3">1</text>
<text class="num" x="620.4" y="1025.6">2</text>
<text class="num" x="684.4" y="1023.6">3</text>
<text class="num" x="866.7" y="1012.4">4</text>
<text class="num" x="1239.5" y="834.2">5</text>
<text class="num" x="1403.5" y="975.8">6</text>
<text class="num" x="1468.0" y="921.2">7</text>
<text class="num" x="1676.0" y="105.2">8</text>
<text class="num" x="1706.0" y="665.8">9</text>
<text class="num" x="1793.3" y="843.7">10</text>
<text class="num" x="1946.5" y="967.0">11</text>
<text class="num" x="2084.5" y="949.6">12</text>
<text class="num" x="2152.0" y="971.0">13</text>
<text class="num" x="2219.5" y="979.6">14</text>
</svg>
</body>
</html>
